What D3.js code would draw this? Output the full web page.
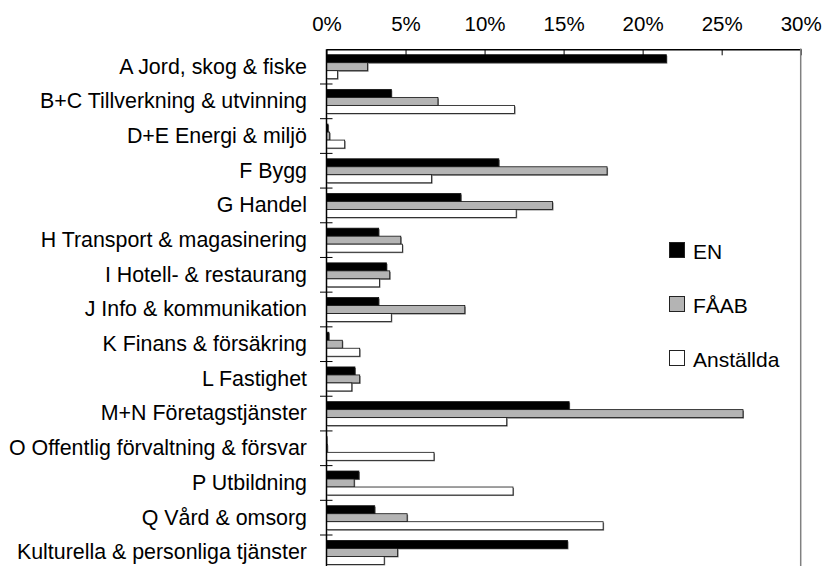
<!DOCTYPE html>
<html>
<head>
<meta charset="utf-8">
<script src="https://cdn.jsdelivr.net/npm/d3@7"></script>
<style>
  body { margin: 0; background: #fff; }
  svg text { font-family: Arial, "Liberation Sans", sans-serif; fill: #000; }
</style>
</head>
<body>
<svg id="chart" width="823" height="566"></svg>
<script>
// kategorier (branscher)
var categories = [
  "A Jord, skog & fiske",
  "B+C Tillverkning & utvinning",
  "D+E Energi & miljö",
  "F Bygg",
  "G Handel",
  "H Transport & magasinering",
  "I Hotell- & restaurang",
  "J Info & kommunikation",
  "K Finans & försäkring",
  "L Fastighet",
  "M+N Företagstjänster",
  "O Offentlig förvaltning & försvar",
  "P Utbildning",
  "Q Vård & omsorg",
  "Kulturella & personliga tjänster"
];

var seriesNames = ["EN", "FÅAB", "Anställda"];

// andel i procent
var valuesEN =        [21.5, 4.1, 0.1, 10.9, 8.5, 3.3, 3.8, 3.3, 0.15, 1.8, 15.35, 0.03, 2.05, 3.05, 15.25];
var valuesFAAB =      [2.6, 7.05, 0.2, 17.75, 14.3, 4.7, 4.0, 8.75, 1.0, 2.1, 26.35, 0.05, 1.75, 5.1, 4.5];
var valuesAnstallda = [0.7, 11.9, 1.15, 6.65, 12.0, 4.8, 3.35, 4.1, 2.1, 1.6, 11.4, 6.8, 11.8, 17.5, 3.65];

var xTicks = [0, 5, 10, 15, 20, 25, 30];

var colors = ["#000000", "#b4b4b4", "#ffffff"];

var allSeries = [valuesEN, valuesFAAB, valuesAnstallda];

var svg = d3.select("#chart");

var x = d3.scaleLinear().domain([0, 30]).range([326.5, 800.7]);
var y = d3.scaleBand().domain(categories).range([49.3, 569.7]).paddingInner(0).paddingOuter(0);
var ySub = d3.scaleBand().domain(d3.range(seriesNames.length)).range([5.4, 29.4]);

// staplar
var groups = svg.append("g").selectAll("g")
  .data(categories)
  .enter().append("g")
  .attr("transform", function(d) { return "translate(0," + y(d) + ")"; });

groups.each(function(cat, ci) {
  var g = d3.select(this);
  allSeries.forEach(function(vals, si) {
    var w = x(vals[ci]) - x(0);
    // skugga
    g.append("rect")
      .attr("x", x(0) + 1)
      .attr("y", ySub(si) + 1)
      .attr("width", Math.max(w, 0.5))
      .attr("height", ySub.bandwidth())
      .attr("fill", "#7f7f7f");
    g.append("rect")
      .attr("x", x(0))
      .attr("y", ySub(si))
      .attr("width", Math.max(w, 0.5))
      .attr("height", ySub.bandwidth())
      .attr("fill", colors[si])
      .attr("stroke", "#111")
      .attr("stroke-width", 0.8);
  });
});

// x-axel upptill
var xAxis = d3.axisTop(x)
  .tickValues(xTicks)
  .tickFormat(function(d) { return d + "%"; })
  .tickSizeInner(-6)
  .tickSizeOuter(0)
  .tickPadding(18.5);

var gx = svg.append("g")
  .attr("transform", "translate(0,49.3)")
  .call(xAxis);
gx.select(".domain").attr("stroke", "#000").attr("stroke-width", 1.5);
gx.selectAll(".tick line").attr("stroke", "#000").attr("stroke-width", 1);
gx.selectAll("text").attr("font-size", "20.5px").attr("fill", "#000");

// y-axel med kategorinamn
var yAxis = d3.axisLeft(y).tickSize(0).tickPadding(19.5);
var gy = svg.append("g")
  .attr("transform", "translate(326.5,0)")
  .call(yAxis);
gy.select(".domain").remove();
gy.selectAll("text").attr("font-size", "21.4px").attr("fill", "#000");

svg.append("line")
  .attr("x1", 326.5).attr("x2", 326.5)
  .attr("y1", 49.3).attr("y2", 570)
  .attr("stroke", "#000").attr("stroke-width", 1.5);

// skiljestreck mellan kategorier
svg.append("g").selectAll("line")
  .data(categories.slice(1))
  .enter().append("line")
  .attr("x1", 320).attr("x2", 332.5)
  .attr("y1", function(d) { return y(d); })
  .attr("y2", function(d) { return y(d); })
  .attr("stroke", "#000").attr("stroke-width", 1);

// högerkant
svg.append("line")
  .attr("x1", 800.7).attr("x2", 800.7)
  .attr("y1", 48.6).attr("y2", 570)
  .attr("stroke", "#808080").attr("stroke-width", 1.5);

// förklaring
var legend = svg.append("g").attr("transform", "translate(669,242)");
seriesNames.forEach(function(name, i) {
  var lg = legend.append("g").attr("transform", "translate(0," + (i * 54) + ")");
  lg.append("rect")
    .attr("x", 0.5).attr("y", 0.5)
    .attr("width", 15).attr("height", 15)
    .attr("fill", colors[i])
    .attr("stroke", "#222").attr("stroke-width", 1);
  lg.append("text")
    .attr("x", 24).attr("y", 17)
    .attr("font-size", "21px")
    .text(name);
});
</script>
</body>
</html>
